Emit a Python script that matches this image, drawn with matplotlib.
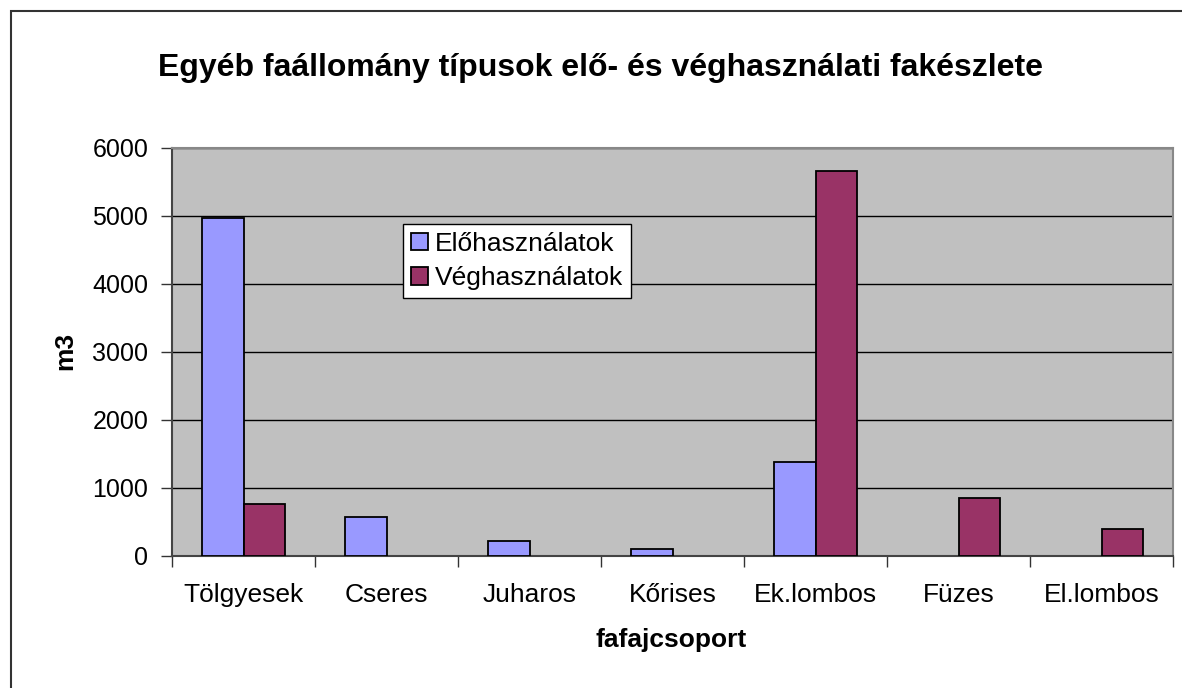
import numpy as np
import matplotlib.pyplot as plt
from matplotlib.patches import Rectangle

plt.rcParams['font.family'] = ['Liberation Sans', 'DejaVu Sans']

categories = ['Tölgyesek', 'Cseres', 'Juharos', 'Kőrises', 'Ek.lombos', 'Füzes', 'El.lombos']
elohasznalat = [4960, 570, 210, 100, 1380, 0, 0]
veghasznalat = [760, 0, 0, 0, 5650, 840, 390]
yticks = [0, 1000, 2000, 3000, 4000, 5000, 6000]

fig = plt.figure(figsize=(11.82, 6.88), dpi=100)
ax = fig.add_axes([172 / 1182, 1 - 555.5 / 688, 1001 / 1182, 408 / 688])

# keret a kep korul
fig.patches.append(Rectangle((11 / 1182, -0.1), 1.2, (688 - 11) / 688 + 0.1,
                             transform=fig.transFigure, fill=False,
                             edgecolor='#333333', linewidth=1.5))

x = np.arange(len(categories))
w = 0.287
# nulla ertekeknel nincs keret
lw_elo = [1.3 if v > 0 else 0 for v in elohasznalat]
lw_veg = [1.3 if v > 0 else 0 for v in veghasznalat]
ax.bar(x - w / 2, elohasznalat, w, color='#9999FF', edgecolor='black',
       linewidth=lw_elo, label='Előhasználatok', zorder=3)
ax.bar(x + w / 2, veghasznalat, w, color='#993366', edgecolor='black',
       linewidth=lw_veg, label='Véghasználatok', zorder=3)

ax.set_facecolor('#C0C0C0')
ax.set_xlim(-0.5, len(categories) - 0.5)
ax.set_ylim(0, 6000)
ax.set_yticks(yticks)
ax.yaxis.grid(True, color='black', linewidth=1)
ax.set_axisbelow(True)

ax.set_xticks(x)
ax.set_xticklabels(categories)
ax.set_xticks(np.arange(len(categories) + 1) - 0.5, minor=True)
ax.tick_params(axis='x', which='major', length=0, pad=20, labelsize=19)
ax.tick_params(axis='x', which='minor', length=8, width=1, color='#333333')
ax.tick_params(axis='y', length=8, width=1, color='#333333', labelsize=18, pad=9)

for side in ['top', 'right']:
    ax.spines[side].set_color('#888888')
    ax.spines[side].set_linewidth(1.5)
for side in ['left', 'bottom']:
    ax.spines[side].set_color('#444444')
    ax.spines[side].set_linewidth(1.5)

fig.text(671 / 1182, 1 - 640 / 688, 'fafajcsoport', ha='center', va='center',
         fontsize=19, fontweight='bold')
fig.text(65 / 1182, 1 - 351 / 688, 'm3', ha='center', va='center', rotation=90,
         fontsize=19, fontweight='bold')
fig.text(0.508, 1 - 68 / 688, 'Egyéb faállomány típusok elő- és véghasználati fakészlete',
         ha='center', va='center', fontsize=23, fontweight='bold')

leg = ax.legend(loc='upper left', bbox_to_anchor=(0.231, 0.8125), fontsize=19,
                frameon=True, fancybox=False, framealpha=1, edgecolor='black',
                handlelength=0.65, handleheight=0.65, handletextpad=0.25,
                borderpad=0.3, labelspacing=0.4, borderaxespad=0)
leg.get_frame().set_linewidth(1)

fig.savefig('out.png', dpi=100)
